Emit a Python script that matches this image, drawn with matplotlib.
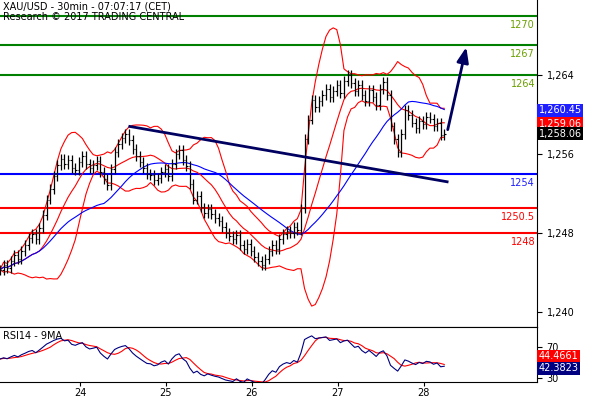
import numpy as np
import matplotlib.pyplot as plt

# ===================== DATA =====================
# hourly closes, 23rd to 28th
closes = [
    1244.3, 1244.8, 1244.5, 1245.2, 1245.8, 1245.4, 1246.2, 1246.8, 1247.5, 1247.9, 1247.4,
    1248.5, 1249.8, 1251.4, 1252.5, 1253.8, 1254.9, 1255.5, 1255.0, 1255.4, 1254.6, 1254.4,
    1255.2, 1255.8, 1255.0, 1254.6, 1254.9, 1255.3, 1254.2, 1253.5, 1252.9, 1254.5, 1256.2, 1257.0,
    1257.6, 1258.0, 1257.4, 1256.5, 1255.8, 1255.2, 1254.6, 1254.0, 1253.9, 1253.4, 1253.6, 1254.2,
    1254.5, 1253.8, 1255.0, 1256.0, 1256.4, 1255.4, 1254.8, 1253.0, 1251.4, 1251.8, 1250.6, 1250.0,
    1250.4, 1249.9, 1249.5, 1249.2, 1248.6, 1248.0, 1247.7, 1247.4, 1247.8, 1246.8, 1246.4, 1246.9,
    1246.2, 1245.6, 1245.2, 1244.8, 1245.4, 1246.2, 1246.8, 1246.4, 1247.4, 1247.9, 1248.2, 1248.0,
    1248.6, 1248.3, 1250.5, 1257.5, 1259.5, 1261.5, 1260.8, 1261.4, 1262.0, 1262.6, 1261.8, 1262.4,
    1263.0, 1262.2, 1263.4, 1264.0, 1263.2, 1262.4, 1263.0, 1262.0, 1261.4, 1262.5, 1261.8, 1261.0,
    1262.6, 1263.3, 1262.0, 1258.8, 1257.5, 1256.2, 1258.0, 1260.5, 1260.0, 1259.2, 1258.6, 1259.4,
    1259.0, 1259.8, 1259.6, 1258.8, 1259.2, 1257.9, 1258.06,
]
start_day = 23.07
green_levels = [1270, 1267, 1264]
blue_levels = [1254]
red_levels = [1250.5, 1248]
trend_x, trend_y = [24.58, 28.27], [1258.8, 1253.2]
arrow_start, arrow_end = (28.27, 1258.2), (28.5, 1267.1)
day_ticks = [24, 25, 26, 27, 28]
price_ticks = [1240, 1248, 1256, 1264]
last_labels = [("1,260.45", 1260.45, "#1f1fff"), ("1,259.06", 1259.06, "#ff0000"),
               ("1,258.06", 1258.06, "black")]
rsi_labels = [("44.4661", 58, "#ff0000"), ("42.3823", 43, "#000080")]

# ===================== CALC =====================
c = np.array(closes)
x = start_day + np.arange(len(c)) / 24.0
o = np.r_[c[0], c[:-1]]
hi = np.maximum(o, c) + 0.5
lo = np.minimum(o, c) - 0.5

def sma(v, n):
    return np.array([v[max(0, i - n + 1):i + 1].mean() for i in range(len(v))])

def sstd(v, n):
    return np.array([v[max(0, i - n + 1):i + 1].std() for i in range(len(v))])

mid = sma(c, 12)
sd = sstd(c, 12)
up, dn = mid + 2 * sd, mid - 2 * sd
ma_blue = sma(c, 30)

d = np.diff(c, prepend=c[0])
g = np.where(d > 0, d, 0)
l = np.where(d < 0, -d, 0)
ag, al = np.zeros(len(c)), np.zeros(len(c))
ag[0], al[0] = 0.6, 0.5
for i in range(1, len(c)):
    ag[i] = (ag[i - 1] * 13 + g[i]) / 14
    al[i] = (al[i - 1] * 13 + l[i]) / 14
rsi = 100 - 100 / (1 + ag / al)
rsi_ma = sma(rsi, 5)

# ===================== PLOT =====================
fig = plt.figure(figsize=(5.9, 4.0), dpi=100)
ax = fig.add_axes([0, 0.1825, 0.91, 0.8175])
ax2 = fig.add_axes([0, 0.045, 0.91, 0.1375])
xmin, xmax = 23.07, 23.07 + 537 / 86

for lvls, lc, tc in [(green_levels, "#008000", "#6aa000"), (blue_levels, "#0000ff", "#2020ff"),
                     (red_levels, "#ff0000", "#ff0000")]:
    for lv in lvls:
        ax.axhline(lv, color=lc, lw=1.5)
        ax.text(xmax - 0.02, lv - 0.4, str(lv), color=tc, fontsize=7, ha="right", va="top")

ax.plot(x, up, color="red", lw=0.8)
ax.plot(x, dn, color="red", lw=0.8)
ax.plot(x, mid, color="red", lw=0.8)
ax.plot(x, ma_blue, color="blue", lw=0.8)
ax.vlines(x, lo, hi, color="black", lw=0.9)
ax.hlines(c, x, x + 0.015, color="black", lw=0.8)
ax.hlines(o, x - 0.015, x, color="black", lw=0.8)

ax.plot(trend_x, trend_y, color="#000060", lw=2)
ax.annotate("", xy=arrow_end, xytext=arrow_start,
            arrowprops=dict(arrowstyle="-|>,head_width=0.35,head_length=0.9", color="#000060", lw=2))

ax.set_xlim(xmin, xmax)
ax.set_ylim(1238.5, 1271.6)
ax.yaxis.tick_right()
ax.set_yticks(price_ticks)
ax.set_yticklabels([f"{p:,}" for p in price_ticks], fontsize=7)
ax.set_xticks([])
for s in ["left", "top"]:
    ax.spines[s].set_visible(False)
ax.text(0.005, 0.995, "XAU/USD - 30min - 07:07:17 (CET)\nResearch © 2017 TRADING CENTRAL",
        transform=ax.transAxes, fontsize=7, va="top", ha="left", linespacing=1.1)
for txt, val, col in last_labels:
    ax.text(xmax + 0.02, val, txt, color="white", fontsize=7, va="center", ha="left",
            clip_on=False, bbox=dict(boxstyle="square,pad=0.15", fc=col, ec="none"))

ax2.plot(x, rsi_ma, color="red", lw=0.8)
ax2.plot(x, rsi, color="#000080", lw=0.8)
ax2.set_xlim(xmin, xmax)
ax2.set_ylim(25.5, 95)
ax2.yaxis.tick_right()
ax2.set_yticks([30, 70])
ax2.set_yticklabels(["30", "70"], fontsize=7)
ax2.set_xticks(day_ticks)
ax2.set_xticklabels([str(t) for t in day_ticks], fontsize=7)
ax2.tick_params(axis="x", pad=1, length=3)
ax2.spines["left"].set_visible(False)
ax2.text(0.005, 0.93, "RSI14 - 9MA", transform=ax2.transAxes, fontsize=7, va="top")
for txt, val, col in rsi_labels:
    ax2.text(xmax + 0.02, val, txt, color="white", fontsize=7, va="center", ha="left",
             clip_on=False, bbox=dict(boxstyle="square,pad=0.15", fc=col, ec="none"))

plt.savefig("out.png", dpi=100)
